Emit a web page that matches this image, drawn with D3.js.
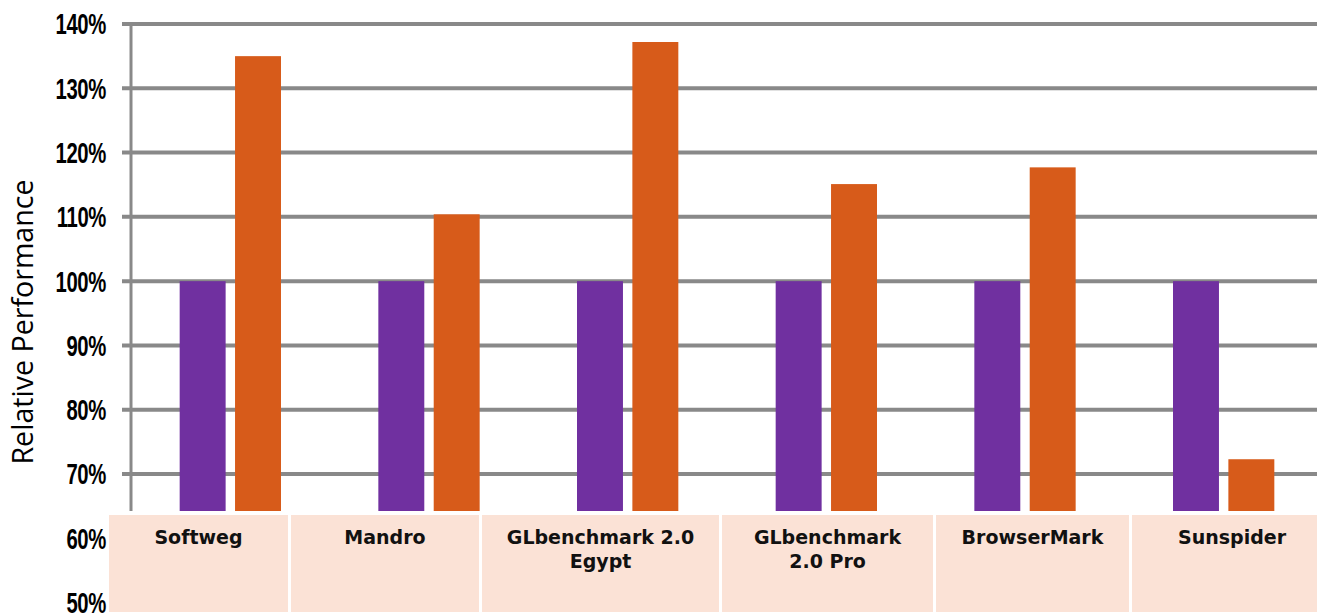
<!DOCTYPE html>
<html>
<head>
<meta charset="utf-8">
<script src="https://cdn.jsdelivr.net/npm/d3@7"></script>
<style>
  html, body { margin: 0; padding: 0; background: #fff; }
  svg { display: block; }
</style>
</head>
<body>
<svg id="chart" width="1317" height="615"></svg>
<script>
// ---- data ----
const categories = ["Softweg", "Mandro", "GLbenchmark 2.0\nEgypt", "GLbenchmark\n2.0 Pro", "BrowserMark", "Sunspider"];
const series = ["Baseline", "Device"];
const baselineValues = [100, 100, 100, 100, 100, 100];
const deviceValues = [135, 110.4, 137.2, 115.1, 117.7, 72.3];
const yTicks = [50, 60, 70, 80, 90, 100, 110, 120, 130, 140];
const yTitle = "Relative Performance";

// ---- layout / style ----
const W = 1317, H = 615;
const plotLeft = 131, plotRight = 1323, plotTop = 24, plotBottom = 511;
const colors = ["#7030A0", "#D75B1A"];
const gridColor = "#898989";
const cellFill = "#FBE2D6";
const tableTop = 515, tableBottom = 612;
const cellWidths = [179, 188, 237, 211, 193, 200]; // table column widths
const tableLeft = 109, cellGap = 3;

const svg = d3.select("#chart");

const y = d3.scaleLinear().domain([50, 140]).range([602.6, plotTop]);
const x0 = d3.scaleBand().domain(categories).range([plotLeft, plotRight])
  .paddingInner(0.49).paddingOuter(0.245);
const x1 = d3.scaleBand().domain(series).range([0, x0.bandwidth()]).paddingInner(0.17);

// gridlines (visible ones, above table)
const gridTicks = yTicks.filter(t => y(t) <= plotBottom);
svg.append("g").selectAll("line").data(gridTicks).join("line")
  .attr("x1", plotLeft - 9).attr("x2", W)
  .attr("y1", d => y(d)).attr("y2", d => y(d))
  .attr("stroke", gridColor).attr("stroke-width", 4);

// vertical axis line
svg.append("line")
  .attr("x1", plotLeft).attr("x2", plotLeft)
  .attr("y1", y(140) - 2).attr("y2", plotBottom)
  .attr("stroke", gridColor).attr("stroke-width", 3);

// bars
const rows = categories.map((c, i) => ({ cat: c, vals: [baselineValues[i], deviceValues[i]] }));
const g = svg.append("g");
rows.forEach(r => {
  r.vals.forEach((v, j) => {
    g.append("rect")
      .attr("x", x0(r.cat) + x1(series[j]))
      .attr("width", x1.bandwidth())
      .attr("y", y(v))
      .attr("height", y(50) - y(v))
      .attr("fill", colors[j]);
  });
});

// table overlay
svg.append("rect").attr("x", tableLeft - 3).attr("y", plotBottom)
  .attr("width", W).attr("height", H - plotBottom).attr("fill", "#fff");

let cx = tableLeft;
categories.forEach((c, i) => {
  const w = cellWidths[i];
  svg.append("rect").attr("x", cx).attr("y", tableTop)
    .attr("width", w).attr("height", tableBottom - tableTop).attr("fill", cellFill);
  const t = svg.append("text")
    .attr("x", cx + w / 2).attr("y", 544)
    .attr("text-anchor", "middle")
    .attr("font-family", "'DejaVu Sans', sans-serif")
    .attr("font-weight", "bold").attr("font-size", 19)
    .attr("fill", "#111");
  c.split("\n").forEach((line, k) => {
    t.append("tspan").attr("x", cx + w / 2).attr("dy", k === 0 ? 0 : 24).text(line);
  });
  cx += w + cellGap;
});

// tick labels (condensed)
svg.append("g").attr("transform", "translate(106,0) scale(0.7,1)")
  .selectAll("text").data(yTicks).join("text")
  .attr("x", 0).attr("y", d => y(d)).attr("dy", "0.36em")
  .attr("text-anchor", "end")
  .attr("font-family", "'Liberation Sans', sans-serif")
  .attr("font-weight", "bold").attr("font-size", 29)
  .attr("letter-spacing", "-0.5px")
  .attr("fill", "#000")
  .text(d => d + "%");

// y title
svg.append("text")
  .attr("transform", `translate(33, 322) rotate(-90)`)
  .attr("text-anchor", "middle")
  .attr("font-family", "'Open Sans', sans-serif")
  .attr("font-size", 28.6)
  .attr("fill", "#000")
  .text(yTitle);
</script>
</body>
</html>
